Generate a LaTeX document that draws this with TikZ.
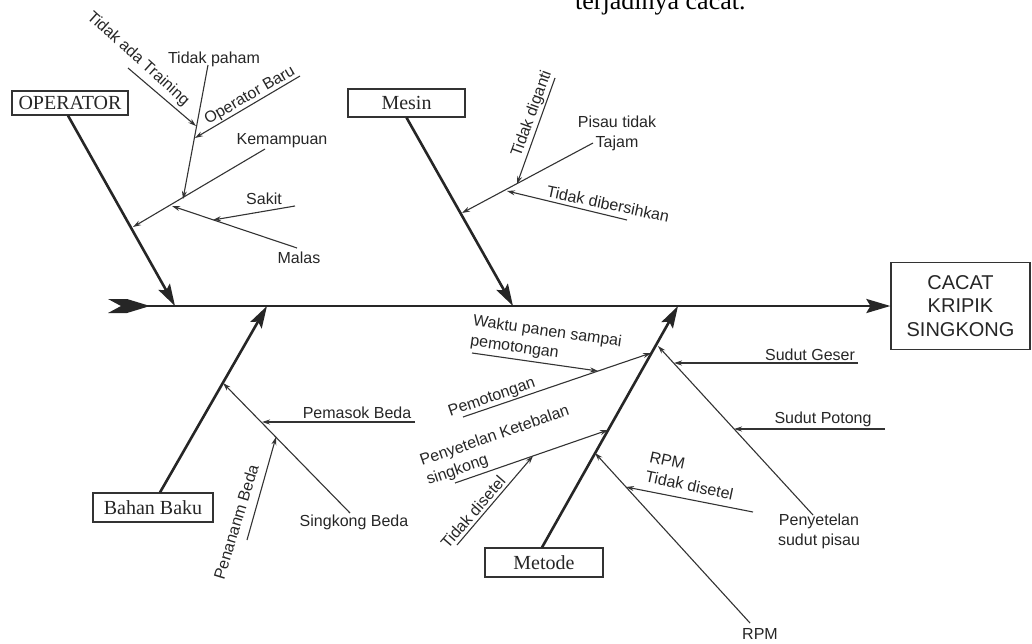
\documentclass[tikz,border=0pt]{standalone}
\usepackage{fontspec}
\setmainfont{Liberation Serif}
\setsansfont{Liberation Sans}
\usetikzlibrary{arrows.meta}
\begin{document}
\begin{tikzpicture}[x=1pt,y=-1pt,
  bone/.style={line width=2.6pt, draw=black!85, -{Stealth[length=22pt,width=13pt,inset=4pt]}},
  spine/.style={line width=2.6pt, draw=black!85, -{Stealth[length=24pt,width=14pt,inset=4pt]}},
  sub/.style={line width=1.1pt, draw=black!80, -{Stealth[length=8pt,width=5pt]}},
  lbl/.style={font=\sffamily\fontsize{16}{20}\selectfont, text=black!85, inner sep=0pt},
  cat/.style={draw=black!80, line width=1.2pt, font=\fontsize{20}{24}\selectfont, inner sep=0pt, text=black!85},
]
\useasboundingbox (0,0) rectangle (1032,643);

% partial title at top
\node[anchor=base west, font=\fontsize{26}{30}\selectfont, inner sep=0pt, text=black] (title) at (575,9) {terjadinya cacat.};

% boxes
\node[cat, minimum width=116pt, minimum height=24pt] (op) at (70,103) {OPERATOR};
\node[cat, minimum width=117pt, minimum height=28pt] (mesin) at (406.5,103) {Mesin};
\node[cat, minimum width=120pt, minimum height=29pt] (bahan) at (153,507.5) {Bahan Baku};
\node[cat, minimum width=118pt, minimum height=29pt] (metode) at (544,562.5) {Metode};
\node[draw=black!80, line width=1.2pt, minimum width=139pt, minimum height=87pt, align=center,
      font=\sffamily\fontsize{20}{23.5}\selectfont, text=black!85, inner sep=0pt] (effect) at (960.5,306) {CACAT\\KRIPIK\\SINGKONG};

% spine and tail
\coordinate (tail) at (121,306);
\fill[black!85] (108,299) -- (127,299) -- (150,306) -- (127,313) -- (108,313) -- (121,306) -- cycle;
\draw[spine] (tail) -- (effect.west);

% main bones
\coordinate (opTip) at (175,306);
\coordinate (meTip) at (513,306);
\coordinate (baTip) at (267,306);
\coordinate (mtTip) at (678,306);
\draw[bone] ([xshift=-2pt]op.south) -- (opTip);
\draw[bone] (mesin.south) -- (meTip);
\draw[bone] ([xshift=7pt]bahan.north) -- (baTip);
\draw[bone] ([xshift=-2pt]metode.north) -- (mtTip);

% ---------- OPERATOR ----------
\coordinate (kemA) at (265,149);  \coordinate (kemB) at (133,227);
\coordinate (tpA) at (208,65);    \coordinate (tpB) at (183,199);
\coordinate (tatA) at (128,68);   \coordinate (tatB) at (196,126);
\coordinate (obA) at (300,76);    \coordinate (obB) at (195,138);
\coordinate (malA) at (297,248);  \coordinate (malB) at (172,206);
\coordinate (sakA) at (295,206);  \coordinate (sakB) at (213,220);
\draw[sub] (kemA) -- (kemB);
\draw[sub] (tpA) -- (tpB);
\draw[sub] (tatA) -- (tatB);
\draw[sub] (obA) -- (obB);
\draw[sub] (malA) -- (malB);
\draw[sub] (sakA) -- (sakB);
\node[lbl] (kem) at (282,141) {Kemampuan};
\node[lbl] (tp) at (214,59) {Tidak paham};
\node[lbl, rotate=-42] (tat) at (138,59) {Tidak ada Training};
\node[lbl, rotate=30] (ob) at (250,96) {Operator Baru};
\node[lbl] (sak) at (264,199) {Sakit};
\node[lbl] (mal) at (299,258) {Malas};

% ---------- MESIN ----------
\coordinate (piA) at (593,143);  \coordinate (piB) at (462,213);
\coordinate (tdgA) at (555,78);  \coordinate (tdgB) at (517,184);
\coordinate (tdbA) at (627,220); \coordinate (tdbB) at (507,191);
\draw[sub] (piA) -- (piB);
\draw[sub] (tdgA) -- (tdgB);
\draw[sub] (tdbA) -- (tdbB);
\node[lbl, align=center] (pi) at (617,133) {Pisau tidak\\Tajam};
\node[lbl, rotate=70] (tdg) at (532,114) {Tidak diganti};
\node[lbl, rotate=-12] (tdb) at (608,204) {Tidak dibersihkan};

% ---------- BAHAN BAKU ----------
\coordinate (sbA) at (350,513);  \coordinate (sbB) at (223,383);
\coordinate (pbA) at (415,422);  \coordinate (pbB) at (262,422);
\coordinate (pnA) at (247,540);  \coordinate (pnB) at (276,437);
\draw[sub] (sbA) -- (sbB);
\draw[sub] (pbA) -- (pbB);
\draw[sub] (pnA) -- (pnB);
\node[lbl] (sb) at (354,522) {Singkong Beda};
\node[lbl] (pb) at (357,413) {Pemasok Beda};
\node[lbl, rotate=73] (pn) at (236,522) {Penananm Beda};

% ---------- METODE ----------
\coordinate (pmA) at (463,417);  \coordinate (pmB) at (651,353);
\coordinate (wkA) at (472,353);  \coordinate (wkB) at (598,371);
\coordinate (pkA) at (455,483);  \coordinate (pkB) at (608,430);
\coordinate (tdsA) at (457,545); \coordinate (tdsB) at (533,456);
\coordinate (rpA) at (750,623);  \coordinate (rpB) at (595,453);
\coordinate (rtA) at (753,512);  \coordinate (rtB) at (626,487);
\coordinate (psA) at (813,515);  \coordinate (psB) at (658,346);
\coordinate (sgA) at (858,363);  \coordinate (sgB) at (674,363);
\coordinate (spA) at (885,429);  \coordinate (spB) at (734,429);
\draw[sub] (pmA) -- (pmB);
\draw[sub] (wkA) -- (wkB);
\draw[sub] (pkA) -- (pkB);
\draw[sub] (tdsA) -- (tdsB);
\draw[sub] (rpA) -- (rpB);
\draw[sub] (rtA) -- (rtB);
\draw[sub] (psA) -- (psB);
\draw[sub] (sgA) -- (sgB);
\draw[sub] (spA) -- (spB);
\node[lbl, rotate=19] (pm) at (492,398) {Pemotongan};
\node[lbl, rotate=-8, align=left] (wk) at (546,342) {Waktu panen sampai\\pemotongan};
\node[lbl, rotate=19, align=left] (pk) at (498,446) {Penyetelan Ketebalan\\singkong};
\node[lbl, rotate=49] (tds) at (473,512) {Tidak disetel};
\node[lbl] (rp) at (760,634) {RPM};
\node[lbl, rotate=-12, align=left, anchor=north west] (rt) at (651,451) {RPM\\Tidak disetel};
\node[lbl, align=center] (ps) at (819,531) {Penyetelan\\sudut pisau};
\node[lbl] (sg) at (810,355) {Sudut Geser};
\node[lbl] (sp) at (823,419) {Sudut Potong};
\end{tikzpicture}
\end{document}
